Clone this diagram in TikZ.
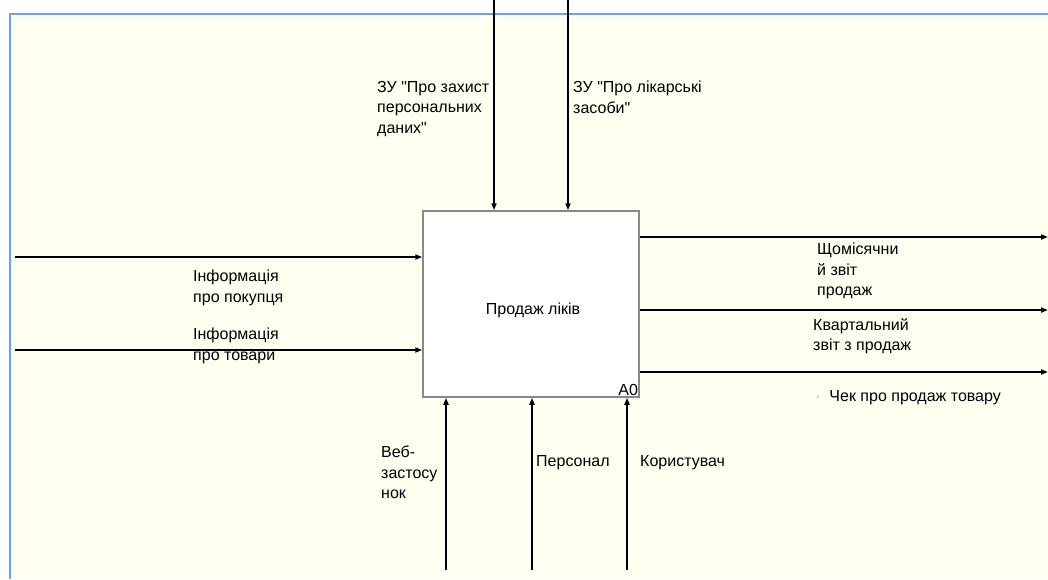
\documentclass[tikz,border=0pt]{standalone}
\usepackage{fontspec}
\setmainfont{Liberation Sans}
\newfontfamily\plainfont{Liberation Sans}
\usetikzlibrary{arrows.meta}
\definecolor{paper}{HTML}{FEFFF0}
\definecolor{framecol}{HTML}{6FA3DC}
\definecolor{boxline}{HTML}{888888}
\newcommand{\qt}{{\plainfont"}}
\tikzset{
  flow/.style={line width=1.8pt,-{Triangle[length=7pt,width=5pt]}},
  outflow/.style={line width=2.2pt,-{Triangle[length=7pt,width=5pt]}},
  lbl/.style={font=\fontsize{16}{20.5}\selectfont,align=left,inner sep=0pt,anchor=north west},
  func/.style={draw=boxline,line width=1.5pt,fill=white,minimum width=216pt,minimum height=186pt,inner sep=0pt}
}
\begin{document}
\begin{tikzpicture}[x=1pt,y=-1pt]
\useasboundingbox (0,0) rectangle (1048,579);
% sheet background and frame
\fill[white] (0,0) rectangle (1048,579);
\fill[paper] (9,13) rectangle (1048,579);
\draw[framecol,line width=2pt] (10,579) -- (10,14) -- (1048,14);

% the function box
\node[func] (A0) at (531,304) {};
\node[font=\fontsize{16}{18}\selectfont] (title) at (533,310) {Продаж ліків};
\node[font=\fontsize{16}{18}\selectfont,anchor=south east,inner sep=1.5pt] (num) at (A0.south east) {A0};

% controls
\coordinate (c1) at (494,0);
\coordinate (c2) at (568,0);
\draw[flow] (c1) -- (c1 |- A0.north);
\draw[flow] (c2) -- (c2 |- A0.north);
\node[lbl] (lc1) at (377,81) {ЗУ \qt Про захист\\персональних\\даних\qt};
\node[lbl] (lc2) at (573,81) {ЗУ \qt Про лікарські\\засоби\qt};

% inputs
\coordinate (i1) at (15,257);
\coordinate (i2) at (15,350);
\draw[flow] (i1) -- (i1 -| A0.west);
\draw[flow] (i2) -- (i2 -| A0.west);
\node[lbl] (li1) at (193,270) {Інформація\\про покупця};
\node[lbl] (li2) at (193,328) {Інформація\\про товари};

% outputs
\coordinate (o1) at (1048,237);
\coordinate (o2) at (1048,310);
\coordinate (o3) at (1048,372);
\draw[outflow] (o1 -| A0.east) -- (o1);
\draw[outflow] (o2 -| A0.east) -- (o2);
\draw[outflow] (o3 -| A0.east) -- (o3);
\node[lbl] (lo1) at (817,243) {Щомісячни\\й звіт\\продаж};
\node[lbl] (lo2) at (813,318) {Квартальний\\звіт з продаж};
\node[lbl] (lo3) at (815,390) {{\color{gray!60}·}\ \ Чек про продаж товару};

% mechanisms
\coordinate (m1) at (446,570);
\coordinate (m2) at (532,570);
\coordinate (m3) at (627,570);
\draw[flow] (m1) -- (m1 |- A0.south);
\draw[flow] (m2) -- (m2 |- A0.south);
\draw[flow] (m3) -- (m3 |- A0.south);
\node[lbl] (lm1) at (381,446) {Веб-\\застосу\\нок};
\node[lbl] (lm2) at (536,455) {Персонал};
\node[lbl] (lm3) at (640,455) {Користувач};
\end{tikzpicture}
\end{document}
